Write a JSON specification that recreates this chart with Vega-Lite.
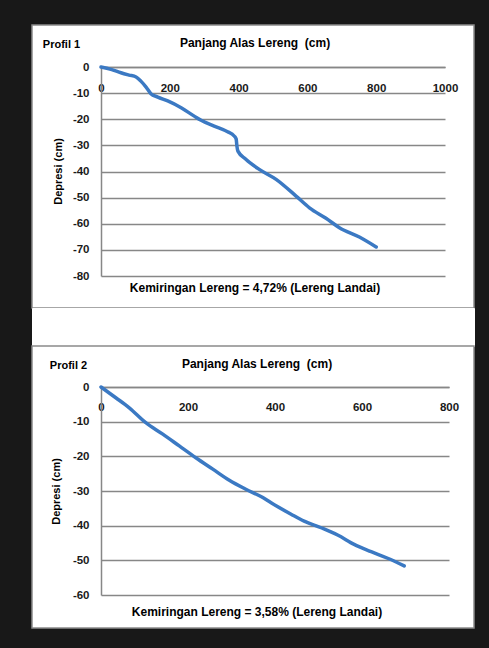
{
  "$schema": "https://vega.github.io/schema/vega-lite/v6.json",
  "background": "#181818",
  "padding": {"left": 31, "top": 24, "right": 16, "bottom": 21},
  "bounds": "flush",
  "spacing": 0,
  "config": {
    "font": "Liberation Sans",
    "axis": {
      "labelFont": "Liberation Sans",
      "labelFontWeight": "bold",
      "labelFontSize": 11.5,
      "labelColor": "#1a1a1a",
      "labelFlush": false,
      "labelOverlap": false,
      "labelBound": false,
      "labelExpr": "toString(datum.value)",
      "titleFont": "Liberation Sans",
      "titleFontWeight": "bold",
      "titleFontSize": 11,
      "titleColor": "#000000",
      "domainColor": "#878787",
      "domainWidth": 1.5,
      "gridColor": "#878787",
      "gridWidth": 1.5,
      "gridOpacity": 1,
      "ticks": false,
      "tickSize": 0
    },
    "title": {
      "font": "Liberation Sans",
      "fontSize": 12,
      "fontWeight": "bold",
      "color": "#000000",
      "subtitleFont": "Liberation Sans",
      "subtitleFontSize": 12,
      "subtitleFontWeight": "bold",
      "subtitleColor": "#000000"
    }
  },
  "datasets": {
    "p1": [
      {"panjang": 0, "depresi": 0},
      {"panjang": 29, "depresi": -0.9},
      {"panjang": 58, "depresi": -2.2},
      {"panjang": 82, "depresi": -3.1},
      {"panjang": 102, "depresi": -3.8},
      {"panjang": 116, "depresi": -5.4},
      {"panjang": 131, "depresi": -7.7},
      {"panjang": 145, "depresi": -10.2},
      {"panjang": 165, "depresi": -11.5},
      {"panjang": 194, "depresi": -13},
      {"panjang": 233, "depresi": -15.6},
      {"panjang": 271, "depresi": -18.8},
      {"panjang": 291, "depresi": -20.4},
      {"panjang": 329, "depresi": -22.6},
      {"panjang": 368, "depresi": -24.8},
      {"panjang": 387, "depresi": -26.4},
      {"panjang": 393, "depresi": -27.6},
      {"panjang": 395, "depresi": -30.2},
      {"panjang": 398, "depresi": -32.2},
      {"panjang": 421, "depresi": -35.3},
      {"panjang": 460, "depresi": -39.2},
      {"panjang": 509, "depresi": -43},
      {"panjang": 567, "depresi": -49.4},
      {"panjang": 606, "depresi": -53.9},
      {"panjang": 654, "depresi": -57.9},
      {"panjang": 693, "depresi": -61.5},
      {"panjang": 751, "depresi": -65.1},
      {"panjang": 800, "depresi": -68.9}
    ],
    "p2": [
      {"panjang": 0, "depresi": 0},
      {"panjang": 34, "depresi": -3.1},
      {"panjang": 65, "depresi": -6.0},
      {"panjang": 103, "depresi": -10.3},
      {"panjang": 142, "depresi": -13.6},
      {"panjang": 180, "depresi": -17.0},
      {"panjang": 218, "depresi": -20.4},
      {"panjang": 257, "depresi": -23.7},
      {"panjang": 295, "depresi": -26.9},
      {"panjang": 333, "depresi": -29.5},
      {"panjang": 372, "depresi": -31.9},
      {"panjang": 391, "depresi": -33.4},
      {"panjang": 437, "depresi": -36.7},
      {"panjang": 467, "depresi": -38.7},
      {"panjang": 506, "depresi": -40.6},
      {"panjang": 544, "depresi": -42.7},
      {"panjang": 582, "depresi": -45.4},
      {"panjang": 621, "depresi": -47.5},
      {"panjang": 659, "depresi": -49.4},
      {"panjang": 697, "depresi": -51.6}
    ],
    "gap": [
      {"kosong": 0}
    ]
  },
  "vconcat": [
    {
      "width": 442,
      "height": 283,
      "view": {"fill": "white", "stroke": "#8a8a8a", "strokeWidth": 1.5},
      "title": {
        "text": "Panjang Alas Lereng\u00a0 (cm)",
        "subtitle": "Kemiringan Lereng = 4,72% (Lereng Landai)",
        "orient": "bottom",
        "anchor": "middle",
        "frame": "group",
        "offset": -270,
        "subtitlePadding": 233,
        "dx": 2
      },
      "data": {"name": "p1"},
      "mark": {"type": "line", "color": "#3b79c3", "strokeWidth": 3.5, "strokeCap": "round", "interpolate": "monotone"},
      "encoding": {
        "x": {
          "field": "panjang",
          "type": "quantitative",
          "scale": {"domain": [0, 1000], "range": [69, 413], "nice": false},
          "axis": {
            "orient": "bottom",
            "offset": -241,
            "values": [0, 200, 400, 600, 800, 1000],
            "grid": false,
            "labelPadding": 15,
            "title": "Profil 1",
            "titleX": 29,
            "titleY": -23,
            "titleAlign": "center",
            "titleBaseline": "middle"
          }
        },
        "y": {
          "field": "depresi",
          "type": "quantitative",
          "scale": {"domain": [-80, 0], "range": [251, 42], "nice": false},
          "axis": {
            "orient": "left",
            "offset": -69,
            "values": [-80, -70, -60, -50, -40, -30, -20, -10, 0],
            "grid": true,
            "labelPadding": 12,
            "title": "Depresi (cm)",
            "titleX": -43,
            "titleY": 146,
            "titleAngle": -90,
            "titleAlign": "center",
            "titleBaseline": "middle"
          }
        }
      }
    },
    {
      "width": 442,
      "height": 38,
      "view": {"fill": "#ffffff", "stroke": "#ffffff", "strokeWidth": 1},
      "data": {"name": "gap"},
      "mark": {"type": "point", "opacity": 0},
      "encoding": {
        "x": {"field": "kosong", "type": "quantitative", "axis": null},
        "y": {"field": "kosong", "type": "quantitative", "axis": null}
      }
    },
    {
      "width": 442,
      "height": 282,
      "view": {"fill": "white", "stroke": "#8a8a8a", "strokeWidth": 1.5},
      "title": {
        "text": "Panjang Alas Lereng\u00a0 (cm)",
        "subtitle": "Kemiringan Lereng = 3,58% (Lereng Landai)",
        "orient": "bottom",
        "anchor": "middle",
        "frame": "group",
        "offset": -269,
        "subtitlePadding": 236,
        "dx": 4
      },
      "data": {"name": "p2"},
      "mark": {"type": "line", "color": "#3b79c3", "strokeWidth": 3.5, "strokeCap": "round", "interpolate": "monotone"},
      "encoding": {
        "x": {
          "field": "panjang",
          "type": "quantitative",
          "scale": {"domain": [0, 800], "range": [69, 417], "nice": false},
          "axis": {
            "orient": "bottom",
            "offset": -241,
            "values": [0, 200, 400, 600, 800],
            "grid": false,
            "labelPadding": 14,
            "title": "Profil 2",
            "titleX": 36,
            "titleY": -22,
            "titleAlign": "center",
            "titleBaseline": "middle"
          }
        },
        "y": {
          "field": "depresi",
          "type": "quantitative",
          "scale": {"domain": [-60, 0], "range": [249, 41], "nice": false},
          "axis": {
            "orient": "left",
            "offset": -69,
            "values": [-60, -50, -40, -30, -20, -10, 0],
            "grid": true,
            "labelPadding": 12,
            "title": "Depresi (cm)",
            "titleX": -45,
            "titleY": 145,
            "titleAngle": -90,
            "titleAlign": "center",
            "titleBaseline": "middle"
          }
        }
      }
    }
  ]
}
